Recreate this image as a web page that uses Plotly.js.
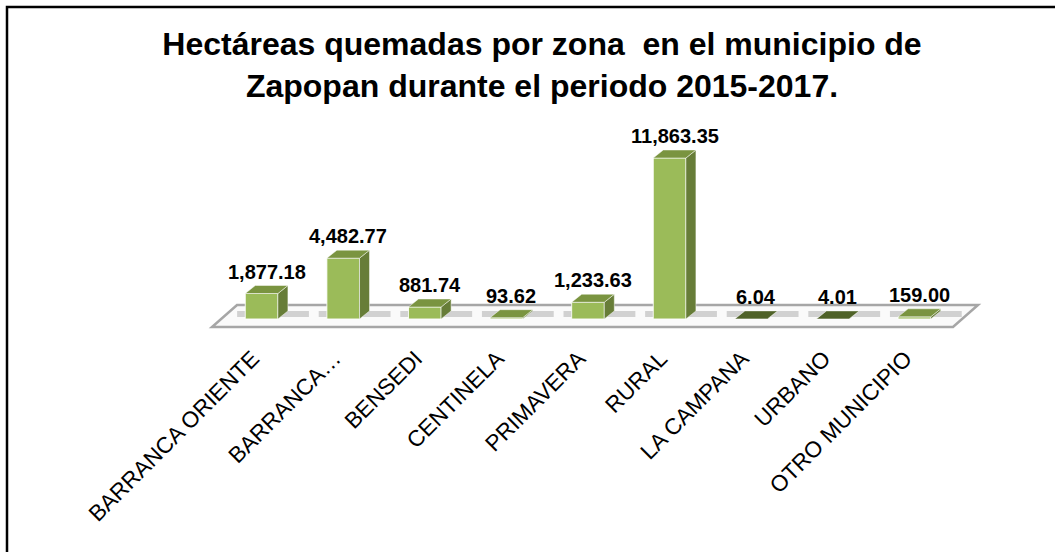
<!DOCTYPE html>
<html>
<head>
<meta charset="utf-8">
<script src="https://cdn.plot.ly/plotly-3.0.1.min.js"></script>
<style>
  html, body { margin: 0; padding: 0; background: #ffffff; }
  #chart { width: 1055px; height: 552px; }
</style>
</head>
<body>
<div id="chart"></div>
<script>
// ---- data ----
const categories = ['BARRANCA ORIENTE', 'BARRANCA…', 'BENSEDI', 'CENTINELA', 'PRIMAVERA', 'RURAL', 'LA CAMPANA', 'URBANO', 'OTRO MUNICIPIO'];
const hectareas = [1877.18, 4482.77, 881.74, 93.62, 1233.63, 11863.35, 6.04, 4.01, 159.00];
const valueLabels = ['1,877.18', '4,482.77', '881.74', '93.62', '1,233.63', '11,863.35', '6.04', '4.01', '159.00'];
const titleText = 'Hectáreas quemadas por zona  en el municipio de<br>Zapopan durante el periodo 2015-2017.';

// ---- layout geometry ----
const W = 1055, H = 552;
const M = { l: 180, r: 59, t: 110, b: 212 };
const PW = W - M.l - M.r, PH = H - M.t - M.b;
const xRange = [-1, 9];
const yRange = [-1550, 15400];
const xPerPx = (xRange[1] - xRange[0]) / PW;
const yPerPx = (yRange[1] - yRange[0]) / PH;
// pixel -> data helpers (used only for decorations / 3D depth offsets)
const pxToX = px => xRange[0] + (px - M.l) * xPerPx;
const pyToY = py => yRange[1] - (py - M.t) * yPerPx;

const barW = 0.4;
const depthX = 10 * xPerPx;   // 3D depth offset, horizontal
const depthY = 8 * yPerPx;    // 3D depth offset, vertical

const frontColor = '#9BBB59';
const topColor = '#7A9440';
const topDark = '#4F6228';
const sideColor = '#677D38';

const xs = categories.map((c, i) => i);

const shapes = [];

// outer frame
shapes.push({
  type: 'rect', xref: 'paper', yref: 'paper',
  x0: (7 - M.l) / PW, x1: (1070 - M.l) / PW,
  y0: (H - M.b - 570) / PH, y1: (H - M.b - 7) / PH,
  line: { color: '#000000', width: 2.5 }, fillcolor: 'rgba(0,0,0,0)', layer: 'below'
});

// floor (thin slab seen in perspective)
const fl = { fx0: pxToX(212), fx1: pxToX(953), bx0: pxToX(237), bx1: pxToX(978), fy: pyToY(327), by: pyToY(305) };
shapes.push({
  type: 'path', xref: 'x', yref: 'y', layer: 'below',
  path: `M ${fl.fx0} ${fl.fy} L ${fl.fx1} ${fl.fy} L ${fl.bx1} ${fl.by} L ${fl.bx0} ${fl.by} Z`,
  fillcolor: '#FAFAFA', line: { color: '#A6A6A6', width: 2.5 }
});

// soft shadows on the floor
xs.forEach(x => {
  shapes.push({
    type: 'rect', xref: 'x', yref: 'y', layer: 'below',
    x0: x - 0.3, x1: x + 0.58, y0: pyToY(317), y1: pyToY(311),
    fillcolor: 'rgba(160,160,160,0.45)', line: { width: 0 }
  });
});

// 3D top and side faces computed from the data values
hectareas.forEach((v, i) => {
  const x = xs[i];
  const l = x - barW / 2, r = x + barW / 2;
  shapes.push({
    type: 'path', xref: 'x', yref: 'y', layer: 'above',
    path: `M ${r} 0 L ${r} ${v} L ${r + depthX} ${v + depthY} L ${r + depthX} ${depthY} Z`,
    fillcolor: sideColor, line: { color: 'rgba(255,255,255,0.6)', width: 0.8 }
  });
  shapes.push({
    type: 'path', xref: 'x', yref: 'y', layer: 'above',
    path: `M ${l} ${v} L ${r} ${v} L ${r + depthX} ${v + depthY} L ${l + depthX} ${v + depthY} Z`,
    fillcolor: v < 50 ? topDark : topColor, line: { color: 'rgba(255,255,255,0.6)', width: 0.8 }
  });
});

// value labels
const annotations = hectareas.map((v, i) => ({
  x: xs[i] + depthX / 2, y: v + depthY, xref: 'x', yref: 'y',
  text: '<b>' + valueLabels[i] + '</b>', showarrow: false,
  xanchor: 'center', yanchor: 'bottom', yshift: 1,
  font: { family: 'Arial, "Liberation Sans", sans-serif', size: 20, color: '#000000' }
}));

const trace = {
  type: 'bar', x: xs, y: hectareas, width: barW,
  marker: { color: frontColor, line: { color: 'rgba(255,255,255,0.85)', width: 1 } },
  hoverinfo: 'skip', cliponaxis: false
};

const layout = {
  width: W, height: H,
  margin: M,
  paper_bgcolor: '#ffffff', plot_bgcolor: 'rgba(0,0,0,0)',
  showlegend: false,
  title: {
    text: titleText,
    font: { family: 'Arial, "Liberation Sans", sans-serif', size: 32, color: '#000000', weight: 'bold' },
    x: 542 / W, xanchor: 'center', xref: 'container',
    y: 1 - 55 / H, yanchor: 'middle', yref: 'container'
  },
  xaxis: {
    range: xRange, tickvals: xs, ticktext: categories, tickangle: -45,
    ticklabelshift: -9,
    showgrid: false, zeroline: false, showline: false, ticks: '',
    tickfont: { family: 'Arial, "Liberation Sans", sans-serif', size: 22.5, color: '#000000' },
    fixedrange: true
  },
  yaxis: {
    range: yRange, visible: false, showgrid: false, zeroline: false, fixedrange: true
  },
  shapes: shapes,
  annotations: annotations
};

Plotly.newPlot('chart', [trace], layout, { displayModeBar: false, staticPlot: true });
</script>
</body>
</html>
